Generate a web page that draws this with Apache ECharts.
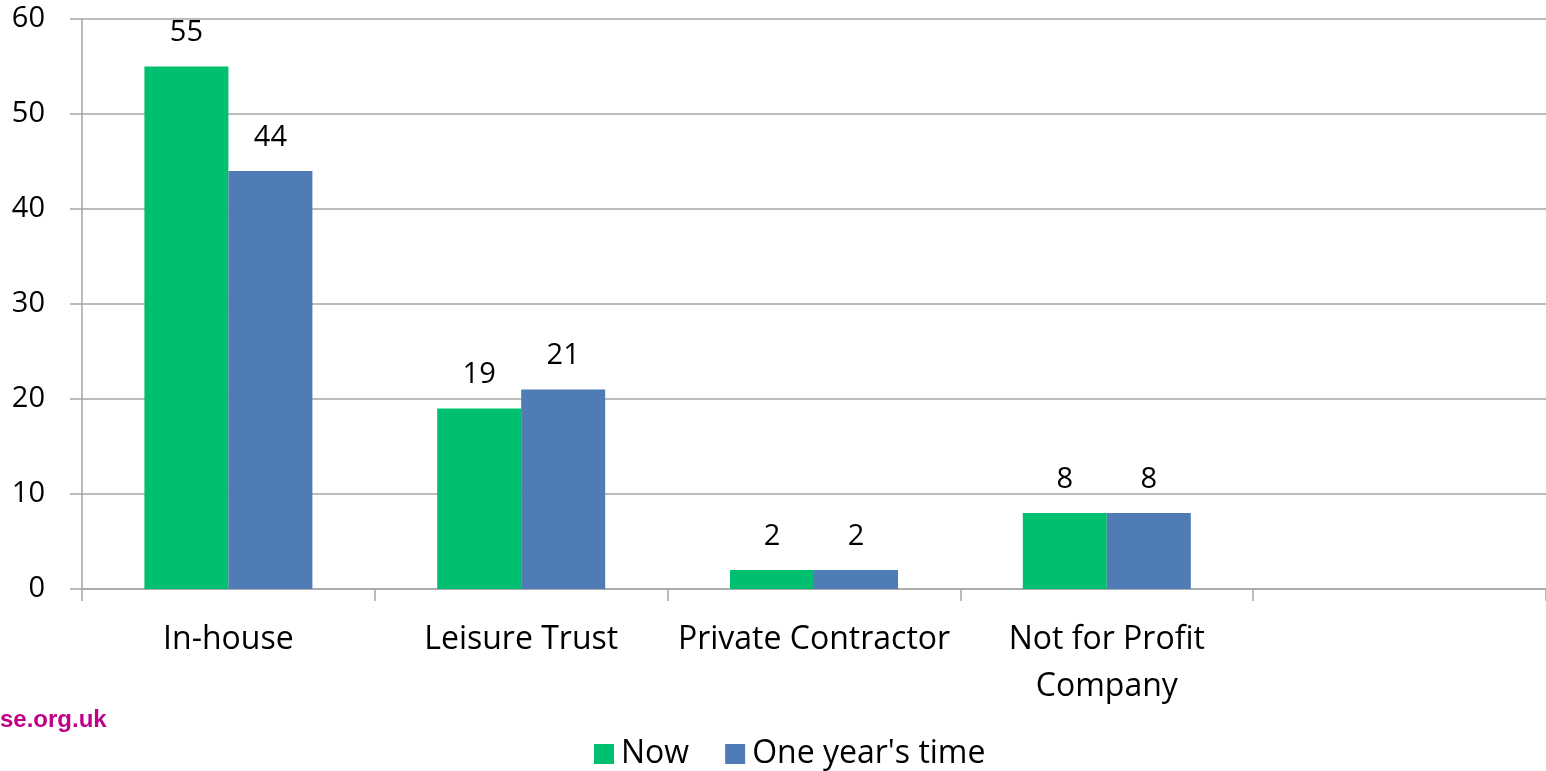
<!DOCTYPE html>
<html>
<head>
<meta charset="utf-8">
<script src="https://cdn.jsdelivr.net/npm/echarts@6/dist/echarts.min.js"></script>
<style>
html, body { margin: 0; padding: 0; background: #fff; }
#chart { width: 1546px; height: 771px; }
</style>
</head>
<body>
<div id="chart"></div>
<script>
// categories (last slot left empty as in the original)
var categories = ['In-house', 'Leisure Trust', 'Private Contractor', 'Not for Profit\nCompany', ''];
var nowValues = [55, 19, 2, 8, '-'];
var yearValues = [44, 21, 2, 8, '-'];
var seriesNames = ['Now', "One year's time"];
var colors = ['#00BF6F', '#4F7CB5'];
var fontFamily = '"Open Sans", "Noto Sans", sans-serif';

var myChart = echarts.init(document.getElementById('chart'));

var labelStyle = {
    show: true,
    position: 'top',
    distance: 19,
    color: '#000',
    fontSize: 29,
    fontFamily: fontFamily
};

var option = {
    animation: false,
    textStyle: { fontFamily: fontFamily },
    grid: {
        left: 82,
        right: 0,
        top: 19,
        bottom: 182
    },
    legend: {
        left: 589,
        top: 733,
        icon: 'rect',
        itemWidth: 20,
        itemHeight: 20,
        itemGap: 36,
        textStyle: {
            fontSize: 32,
            color: '#000',
            fontFamily: fontFamily,
            padding: [0, 0, 0, 2]
        },
        data: seriesNames
    },
    xAxis: {
        type: 'category',
        data: categories,
        axisLine: { lineStyle: { color: '#A6A6A6', width: 1.5 } },
        axisTick: { show: true, interval: 0, length: 12, lineStyle: { color: '#A6A6A6', width: 1.5 } },
        axisLabel: {
            interval: 0,
            color: '#000',
            fontSize: 32,
            margin: 27,
            lineHeight: 47,
            fontFamily: fontFamily
        }
    },
    yAxis: {
        type: 'value',
        min: 0,
        max: 60,
        interval: 10,
        axisLine: { show: true, lineStyle: { color: '#A6A6A6', width: 1.5 } },
        axisTick: { show: true, length: 12, lineStyle: { color: '#A6A6A6', width: 1.5 } },
        splitLine: { lineStyle: { color: '#A6A6A6', width: 1.5 } },
        axisLabel: {
            color: '#000',
            fontSize: 29,
            margin: 37,
            fontFamily: fontFamily
        }
    },
    graphic: [{
        type: 'text',
        left: 0,
        top: 708,
        style: {
            text: 'se.org.uk',
            fill: '#C0008A',
            font: 'bold 24px "Liberation Sans", Arial, sans-serif'
        }
    }],
    series: [
        {
            name: seriesNames[0],
            type: 'bar',
            barWidth: 84,
            barGap: '0%',
            itemStyle: { color: colors[0] },
            label: labelStyle,
            data: nowValues
        },
        {
            name: seriesNames[1],
            type: 'bar',
            barWidth: 84,
            barGap: '0%',
            itemStyle: { color: colors[1] },
            label: labelStyle,
            data: yearValues
        }
    ]
};

myChart.setOption(option);
</script>
</body>
</html>
